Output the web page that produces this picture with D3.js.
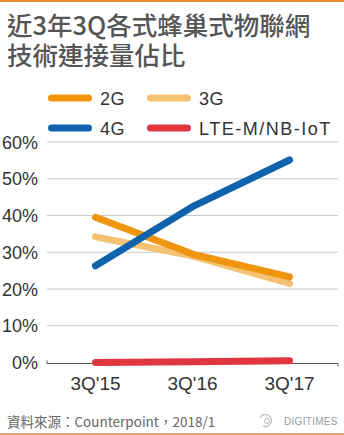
<!DOCTYPE html>
<html><head><meta charset="utf-8">
<script src="https://cdn.jsdelivr.net/npm/d3@7"></script>
<style>
html,body{margin:0;padding:0;background:#fff;}
svg{display:block;}
</style></head>
<body>
<script>
const categories = ["3Q'15", "3Q'16", "3Q'17"];
const seriesNames = ["2G", "3G", "4G", "LTE-M/NB-IoT"];
const values2G = [39.5, 29.5, 23.3];
const values3G = [34.2, 29.0, 21.5];
const values4G = [26.3, 42.4, 55.1];
const valuesLTE = [0.0, 0.2, 0.5];
const yTicks = [0, 10, 20, 30, 40, 50, 60];
const colors = ["#F0950F", "#F5C173", "#0F63AD", "#E0363F"];
const titleLines = ["近3年3Q各式蜂巢式物聯網", "技術連接量佔比"];
const sourceText = "資料來源：Counterpoint，2018/1";

const W = 344, H = 435;
const svg = d3.select("body").append("svg").attr("width", W).attr("height", H);
const latin = "'Liberation Sans', Arial, 'Noto Sans CJK TC', sans-serif";
const cjk = "'Noto Sans CJK TC', 'Noto Sans CJK SC', sans-serif";

// decorative bars
svg.append("rect").attr("x",0).attr("y",0).attr("width",W).attr("height",2).attr("fill","#E8922C");
svg.append("rect").attr("x",0).attr("y",433).attr("width",W).attr("height",2).attr("fill","#E9A062");

// title (one text element, two lines)
const title = svg.append("text")
  .attr("font-family", cjk).attr("font-size", 25.5).attr("font-weight", 500)
  .attr("fill", "#555");
title.selectAll("tspan").data(titleLines).enter().append("tspan")
  .attr("x", 7).attr("y",(d,i)=>35 + i*29.5).text(d=>d);

const x = d3.scalePoint().domain(categories).range([47, 338]).padding(0.5);
const y = d3.scaleLinear().domain([0, 60]).range([362.5, 142]);

// grid
const grid = svg.append("g");
grid.selectAll("line").data(yTicks.filter(t=>t>0)).enter().append("line")
  .attr("x1", 47).attr("x2", 338)
  .attr("y1", d=>y(d)).attr("y2", d=>y(d))
  .attr("stroke", "#c8c8c8").attr("stroke-width", 1);

// axis baseline
const yb = y(0) + 1;
svg.append("path")
  .attr("d", `M47,${yb-3}V${yb}H338V${yb+3}`)
  .attr("fill","none").attr("stroke","#555").attr("stroke-width",1);

// y labels
svg.selectAll("text.ylab").data(yTicks).enter().append("text")
  .attr("class","ylab")
  .attr("x", 38).attr("y", d=>y(d)+6.5)
  .attr("text-anchor","end")
  .attr("font-family", latin).attr("font-size", 18).attr("fill","#333")
  .text(d=>d+"%");

// x labels
svg.selectAll("text.xlab").data(categories).enter().append("text")
  .attr("class","xlab")
  .attr("x", d=>x(d)).attr("y", 390)
  .attr("text-anchor","middle")
  .attr("font-family", latin).attr("font-size", 19).attr("fill","#333")
  .text(d=>d);

// lines
const series = [values2G, values3G, values4G, valuesLTE];
const line = d3.line().x((d,i)=>x(categories[i])).y(d=>y(d));
const order = [3, 1, 0, 2];
order.forEach(si=>{
  svg.append("path").datum(series[si])
    .attr("d", line)
    .attr("fill","none").attr("stroke", colors[si])
    .attr("stroke-width", 7).attr("stroke-linecap","round").attr("stroke-linejoin","round");
});

// legend
const legPos = [[48, 98], [147, 98], [48, 128], [147, 128]];
seriesNames.forEach((n,i)=>{
  const [lx, ly] = legPos[i];
  svg.append("line").attr("x1", lx+3.5).attr("x2", lx+40.5).attr("y1", ly).attr("y2", ly)
    .attr("stroke", colors[i]).attr("stroke-width", 7).attr("stroke-linecap","round");
  svg.append("text").attr("x", lx+52).attr("y", ly+6.5)
    .attr("font-family", latin).attr("font-size", 18).attr("fill","#333")
    .attr("letter-spacing", i===3 ? 1.5 : 0.5)
    .text(n);
});

// source
svg.append("text").attr("x", 7).attr("y", 427)
  .attr("font-family", cjk).attr("font-size", 13.5).attr("fill","#666")
  .text(sourceText);

// watermark
const wm = svg.append("g").attr("transform","translate(266,421)");
wm.append("path").attr("d","M-6,-3 A6,6 0 1,1 -3,5").attr("fill","none").attr("stroke","#bbb").attr("stroke-width",1.2);
wm.append("circle").attr("cx",1).attr("cy",0).attr("r",2.5).attr("fill","none").attr("stroke","#bbb").attr("stroke-width",1);
svg.append("text").attr("x", 284).attr("y", 425)
  .attr("font-family", latin).attr("font-size", 10).attr("fill","#999")
  .attr("letter-spacing", 0.3)
  .text("DIGITIMES");
</script>
</body></html>
